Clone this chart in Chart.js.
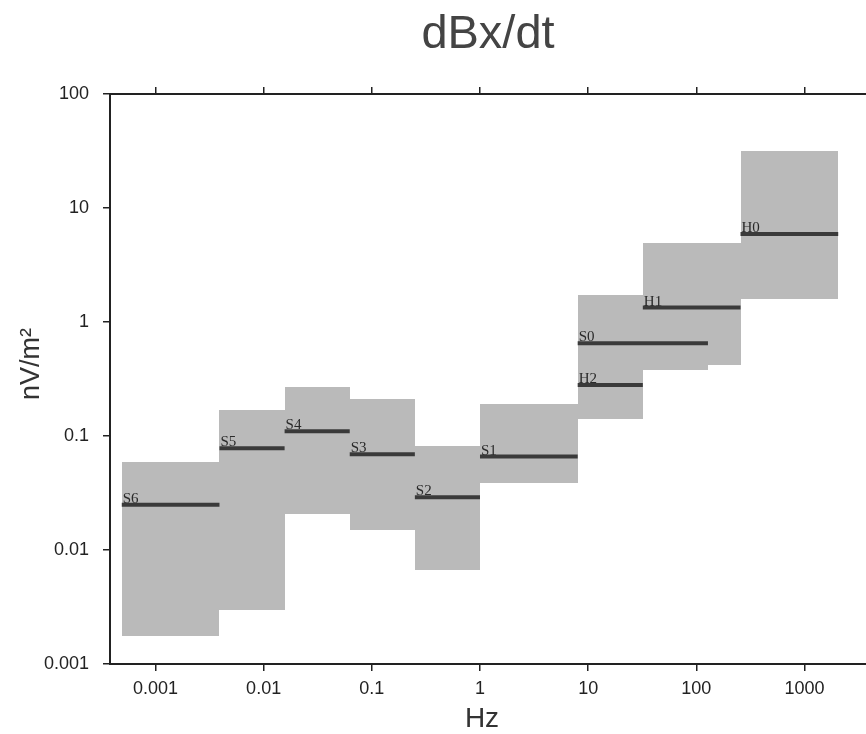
<!DOCTYPE html>
<html lang="en">
<head>
    <meta charset="UTF-8">
    <title>dBx/dt</title>
    <script src="https://cdn.jsdelivr.net/npm/chart.js"></script>
    <style>
        body { margin: 0; background: #fff; }
        #wrap { width: 866px; height: 734px; }
    </style>
</head>
<body>
    <div id="wrap"><canvas id="myChart"></canvas></div>
    <script>
        // frequency bands (Hz), ranges and medians (nV/m^2)
        const bands  = ['S6', 'S5', 'S4', 'S3', 'S2', 'S1', 'H2', 'S0', 'H1', 'H0'];
        const fLow   = [1/2048, 1/256, 1/64, 1/16, 1/4, 1, 8, 8, 32, 256];
        const fHigh  = [1/256, 1/64, 1/16, 1/4, 1, 8, 32, 128, 256, 2048];
        const lower  = [0.00175, 0.003, 0.0205, 0.015, 0.0067, 0.039, 0.141, 0.38, 0.42, 1.6];
        const upper  = [0.059, 0.17, 0.27, 0.21, 0.082, 0.19, 0.55, 1.73, 4.95, 31.4];
        const median = [0.025, 0.078, 0.11, 0.069, 0.029, 0.066, 0.28, 0.65, 1.34, 5.9];

        const xTicks = [0.001, 0.01, 0.1, 1, 10, 100, 1000];
        const xTickLabels = ['0.001', '0.01', '0.1', '1', '10', '100', '1000'];
        const yTicks = [0.001, 0.01, 0.1, 1, 10, 100];
        const yTickLabels = ['0.001', '0.01', '0.1', '1', '10', '100'];

        const axisColor = '#222';

        const datasets = bands.map((b, i) => ({
            label: b,
            data: [{ x: fLow[i], y: median[i] }, { x: fHigh[i], y: median[i] }],
            showLine: true,
            borderColor: '#3a3a3a',
            borderWidth: 4,
            borderCapStyle: 'butt',
            pointRadius: 0
        }));

        function fixTicks(values) {
            return scale => { scale.ticks = values.map(v => ({ value: v })); };
        }

        // gray range boxes under the median lines
        const boxPlugin = {
            id: 'boxes',
            beforeDatasetsDraw(chart) {
                const { ctx, scales: { x, y } } = chart;
                ctx.save();
                ctx.fillStyle = '#bababa';
                bands.forEach((b, i) => {
                    // snap to whole pixels so neighbouring boxes meet without a seam
                    const x0 = Math.round(x.getPixelForValue(fLow[i]));
                    const x1 = Math.round(x.getPixelForValue(fHigh[i]));
                    const y0 = Math.round(y.getPixelForValue(upper[i]));
                    const y1 = Math.round(y.getPixelForValue(lower[i]));
                    ctx.fillRect(x0, y0, x1 - x0, y1 - y0);
                });
                ctx.restore();
            },
            afterDatasetsDraw(chart) {
                const { ctx, scales: { x, y } } = chart;
                ctx.save();
                ctx.font = '15px "Liberation Serif", serif';
                ctx.fillStyle = '#2a2a2a';
                ctx.textAlign = 'left';
                ctx.textBaseline = 'alphabetic';
                bands.forEach((b, i) => {
                    ctx.fillText(b, x.getPixelForValue(fLow[i]) + 1, y.getPixelForValue(median[i]) - 2);
                });
                ctx.restore();
            }
        };

        // title and axis titles
        const titlePlugin = {
            id: 'titles',
            afterDraw(chart) {
                const { ctx, chartArea } = chart;
                ctx.save();
                ctx.fillStyle = '#444';
                ctx.textAlign = 'center';
                ctx.textBaseline = 'alphabetic';
                ctx.font = '47px "Liberation Sans", Arial, sans-serif';
                ctx.fillText('dBx/dt', (chartArea.left + chartArea.right) / 2, 48);

                ctx.fillStyle = '#333';
                ctx.font = '28px "Liberation Sans", Arial, sans-serif';
                ctx.fillText('Hz', 482, 727);

                ctx.translate(39, 364);
                ctx.rotate(-Math.PI / 2);
                ctx.font = '27px "Liberation Sans", Arial, sans-serif';
                ctx.fillText('nV/m²', 0, 0);
                ctx.restore();
            }
        };

        const gridOpts = {
            drawOnChartArea: false,
            tickLength: 7,
            color: axisColor,
            lineWidth: 1.5
        };
        const borderOpts = { display: true, color: axisColor, width: 2 };
        const tickFont = { family: '"Liberation Sans", Arial, sans-serif', size: 18 };

        const ctx = document.getElementById('myChart').getContext('2d');
        const myChart = new Chart(ctx, {
            type: 'scatter',
            data: { datasets: datasets },
            options: {
                responsive: true,
                maintainAspectRatio: false,
                animation: false,
                layout: { padding: 0 },
                plugins: {
                    legend: { display: false },
                    tooltip: { enabled: false },
                    title: { display: false }
                },
                scales: {
                    x: {
                        type: 'logarithmic',
                        position: 'bottom',
                        min: 0.00038,
                        max: 3700,
                        afterBuildTicks: fixTicks(xTicks),
                        afterFit: s => { s.height = 70; },
                        ticks: {
                            autoSkip: false,
                            maxRotation: 0,
                            padding: 7,
                            color: axisColor,
                            font: tickFont,
                            callback: (v, i) => xTickLabels[i]
                        },
                        grid: gridOpts,
                        border: borderOpts
                    },
                    xTop: {
                        type: 'logarithmic',
                        position: 'top',
                        min: 0.00038,
                        max: 3700,
                        afterBuildTicks: fixTicks(xTicks),
                        afterFit: s => { s.height = 94; },
                        ticks: { display: false },
                        grid: gridOpts,
                        border: borderOpts
                    },
                    y: {
                        type: 'logarithmic',
                        position: 'left',
                        min: 0.001,
                        max: 100,
                        afterBuildTicks: fixTicks(yTicks),
                        afterFit: s => { s.width = 110; },
                        ticks: {
                            padding: 14,
                            color: axisColor,
                            font: tickFont,
                            callback: (v, i) => yTickLabels[i]
                        },
                        grid: gridOpts,
                        border: borderOpts
                    }
                }
            },
            plugins: [boxPlugin, titlePlugin]
        });
    </script>
</body>
</html>
